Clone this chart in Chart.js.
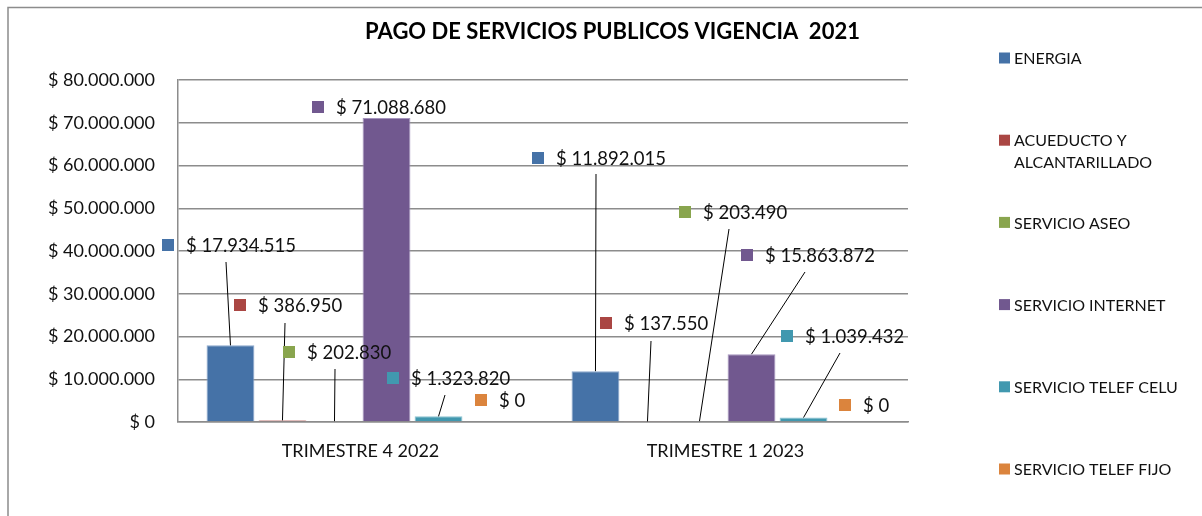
<!DOCTYPE html>
<html>
<head>
<meta charset="utf-8">
<script src="https://cdn.jsdelivr.net/npm/chart.js@4.4.1/dist/chart.umd.min.js"></script>
<style>
  html, body { margin: 0; padding: 0; background: #fff; }
  #chart { display: block; }
</style>
</head>
<body>
<canvas id="chart" width="1202" height="516"></canvas>
<script>
// --- data ---
const categories = ['TRIMESTRE 4 2022', 'TRIMESTRE 1 2023'];
const seriesNames = [
  'ENERGIA',
  'ACUEDUCTO Y ALCANTARILLADO',
  'SERVICIO ASEO',
  'SERVICIO INTERNET',
  'SERVICIO TELEF CELU',
  'SERVICIO TELEF FIJO',
];
const energia = [17934515, 11892015];
const acueducto = [386950, 137550];
const aseo = [202830, 203490];
const internet = [71088680, 15863872];
const telefCelu = [1323820, 1039432];
const telefFijo = [0, 0];
const yTicks = [0, 10000000, 20000000, 30000000, 40000000, 50000000, 60000000, 70000000, 80000000];

const TITLE = 'PAGO DE SERVICIOS PUBLICOS VIGENCIA  2021';
const FONT = 'Lato, "Open Sans", sans-serif';
const TEXT_COLOR = '#111';

const colors = ['#4572A7', '#AA4643', '#89A54E', '#71588F', '#4198AF', '#DB843D'];
const edgeColors = ['#8aa6cc', '#d39c9a', '#b7cb92', '#a594bd', '#8cc3d1', '#eeb487'];

// Where Excel left each data label (key x, text centre y, leader start) —
// one row per series, one entry per category, lx null = no leader line.
const labelSpots = [
  [{ x: 162, y: 245, lx: 226, ly: 262 }, { x: 532, y: 158, lx: 596, ly: 174 }],
  [{ x: 234, y: 305, lx: 285, ly: 323 }, { x: 600, y: 323, lx: 651, ly: 341 }],
  [{ x: 283, y: 352, lx: 335, ly: 369 }, { x: 679, y: 212, lx: 729, ly: 229 }],
  [{ x: 312, y: 107, lx: null }, { x: 741, y: 255, lx: 805, ly: 272 }],
  [{ x: 387, y: 378, lx: 445, ly: 395 }, { x: 781, y: 336, lx: 840, ly: 353 }],
  [{ x: 475, y: 400, lx: null }, { x: 839, y: 405, lx: null }],
];

function pesos(v) {
  return '$ ' + Math.round(v).toString().replace(/\B(?=(\d{3})+(?!\d))/g, '.');
}

const seriesValues = [energia, acueducto, aseo, internet, telefCelu, telefFijo];

const framePlugin = {
  id: 'frame',
  beforeDraw(chart) {
    const ctx = chart.ctx;
    ctx.save();
    ctx.strokeStyle = '#8c8c8c';
    ctx.lineWidth = 1.5;
    ctx.beginPath();
    ctx.moveTo(8, 516);
    ctx.lineTo(8, 7.5);
    ctx.lineTo(1202, 7.5);
    ctx.stroke();

    // title, fitted to the width it has in the reference
    let size = 24;
    ctx.font = `bold ${size}px ${FONT}`;
    const w = ctx.measureText(TITLE).width;
    size = Math.min(24, size * 495 / w);
    ctx.font = `bold ${size}px ${FONT}`;
    ctx.fillStyle = '#000';
    ctx.textAlign = 'center';
    ctx.textBaseline = 'middle';
    ctx.fillText(TITLE, 612.5, 32);
    ctx.restore();
  },
};

const dataLabelPlugin = {
  id: 'excelLabels',
  afterDatasetsDraw(chart) {
    const ctx = chart.ctx;
    ctx.save();
    ctx.font = `18.5px ${FONT}`;
    ctx.textBaseline = 'middle';
    ctx.textAlign = 'left';
    chart.data.datasets.forEach((ds, i) => {
      const meta = chart.getDatasetMeta(i);
      meta.data.forEach((bar, j) => {
        const spot = labelSpots[i][j];
        if (spot.lx !== null) {
          ctx.strokeStyle = '#000';
          ctx.lineWidth = 1;
          ctx.beginPath();
          ctx.moveTo(spot.lx, spot.ly);
          ctx.lineTo(bar.x, bar.y);
          ctx.stroke();
        }
        ctx.fillStyle = colors[i];
        ctx.fillRect(spot.x, spot.y - 6, 12, 12);
        ctx.fillStyle = TEXT_COLOR;
        ctx.fillText(pesos(ds.data[j]), spot.x + 24, spot.y + 1);
      });
    });
    ctx.restore();
  },
};

const legendPlugin = {
  id: 'sideLegend',
  afterDraw(chart) {
    const ctx = chart.ctx;
    ctx.save();
    ctx.font = `16px ${FONT}`;
    ctx.textBaseline = 'middle';
    ctx.textAlign = 'left';
    chart.data.datasets.forEach((ds, i) => {
      const y = 58 + i * 82.2;
      ctx.fillStyle = colors[i];
      ctx.fillRect(999, y - 5.5, 11, 11);
      // simple word wrap
      const lines = [];
      let line = '';
      ds.label.split(' ').forEach((word) => {
        const test = line ? line + ' ' + word : word;
        if (ctx.measureText(test).width > 178 && line) {
          lines.push(line);
          line = word;
        } else {
          line = test;
        }
      });
      lines.push(line);
      ctx.fillStyle = TEXT_COLOR;
      lines.forEach((l, k) => ctx.fillText(l, 1014, y + 1 + k * 22));
    });
    ctx.restore();
  },
};

new Chart(document.getElementById('chart'), {
  type: 'bar',
  data: {
    labels: categories,
    datasets: seriesValues.map((values, i) => ({
      label: seriesNames[i],
      data: values,
      backgroundColor: colors[i],
      borderColor: edgeColors[i],
      borderWidth: 1,
      categoryPercentage: 0.855,
      barPercentage: 0.92,
    })),
  },
  options: {
    responsive: false,
    devicePixelRatio: 1,
    animation: false,
    layout: { padding: { top: 80, right: 294, left: 0, bottom: 0 } },
    plugins: {
      legend: { display: false },
      title: { display: false },
      tooltip: { enabled: false },
    },
    scales: {
      x: {
        grid: { display: false, drawTicks: false },
        border: { color: '#8c8c8c', width: 1.5 },
        ticks: { color: TEXT_COLOR, font: { family: FONT, size: 18 }, padding: 18 },
        afterFit(scale) { scale.height = 94; },
      },
      y: {
        min: 0,
        max: 80000000,
        afterBuildTicks(scale) { scale.ticks = yTicks.map((v) => ({ value: v })); },
        grid: { color: '#8c8c8c', lineWidth: 1.5, drawTicks: false },
        border: { color: '#8c8c8c', width: 1.5 },
        ticks: {
          color: TEXT_COLOR,
          font: { family: FONT, size: 18 },
          padding: 23,
          callback: (v) => pesos(v),
        },
        afterFit(scale) { scale.width = 178; },
      },
    },
  },
  plugins: [framePlugin, dataLabelPlugin, legendPlugin],
});
</script>
</body>
</html>
